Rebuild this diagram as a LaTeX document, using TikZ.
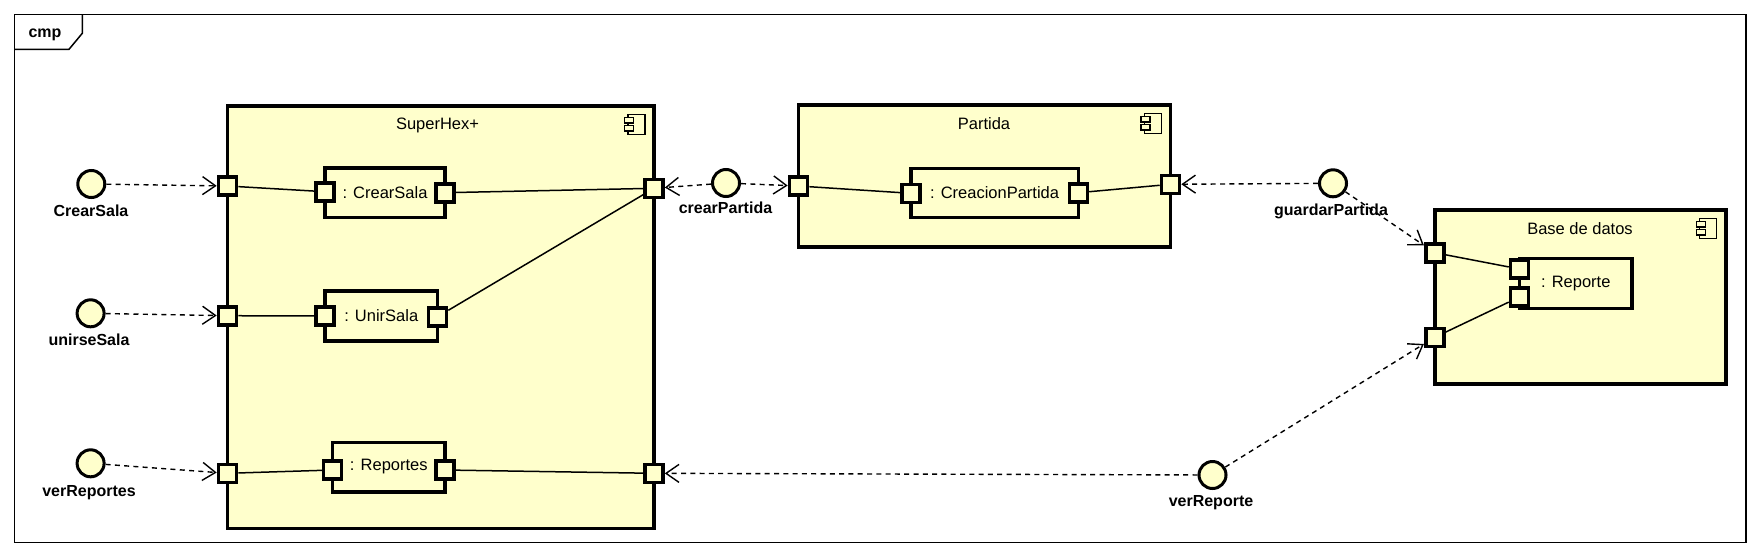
\documentclass[tikz,border=0pt]{standalone}
\usepackage{fontspec}
\setmainfont{Liberation Sans}
\usetikzlibrary{arrows.meta}
\definecolor{compfill}{HTML}{FFFFCC}
\begin{document}
\begin{tikzpicture}[x=1pt,y=-1pt,
  compbox/.style={draw, line width=3.6pt, fill=compfill, inner sep=0pt, outer sep=0pt},
  portbox/.style={draw, line width=3.6pt, fill=compfill, minimum size=18pt, inner sep=0pt},
  iface/.style={draw, circle, line width=3pt, fill=compfill, minimum size=27pt, inner sep=0pt},
  ilabel/.style={font=\fontsize{16}{19}\selectfont\bfseries, anchor=base, inner sep=0pt},
  clabel/.style={font=\fontsize{16.5}{19}\selectfont},
  dep/.style={dash pattern=on 5pt off 4.3pt, line width=1.4pt, -{Straight Barb[length=13pt,width=18pt]}},
  wire/.style={line width=1.5pt},
  cicon/.pic={
    \draw[line width=1.2pt, fill=compfill] (0,0) rectangle (17,20);
    \draw[line width=1.2pt, fill=compfill] (-3.5,3) rectangle (5.5,8.5);
    \draw[line width=1.2pt, fill=compfill] (-3.5,11) rectangle (5.5,16.5);
  }
]
\useasboundingbox (0,0) rectangle (1760,557);
\fill[white] (0,0) rectangle (1760,557);

% frame
\draw[line width=1.5pt] (14.3,14.3) rectangle (1746,542.7);
\draw[line width=1.5pt] (14.3,49.3) -- (69,49.3) -- (82.3,33.3) -- (82.3,14.3);
\node[font=\fontsize{16}{19}\selectfont\bfseries, anchor=base, inner sep=0pt] (cmp) at (45,37.5) {cmp};

% outer components
\node[compbox, anchor=north west, minimum width=426.5pt, minimum height=422.3pt] (sh) at (227.5,106) {};
\node[compbox, anchor=north west, minimum width=372pt, minimum height=141.7pt] (pa) at (798.5,105) {};
\node[compbox, anchor=north west, minimum width=291pt, minimum height=174pt] (bd) at (1434.7,210) {};
\node[clabel] (shlbl) at (437.5,125) {SuperHex+};
\node[clabel] (palbl) at (984,123.5) {Partida};
\node[clabel] (bdlbl) at (1580,229) {Base de datos};
\pic at ([shift={(-26,8.5)}]sh.north east) {cicon};
\pic at ([shift={(-26,8.5)}]pa.north east) {cicon};
\pic at ([shift={(-26,8.5)}]bd.north east) {cicon};

% inner components
\node[compbox, clabel, minimum width=120pt, minimum height=49.6pt] (cs) at (385,192.5) {: CrearSala};
\node[compbox, clabel, minimum width=112.5pt, minimum height=49.7pt] (us) at (381.25,315.85) {: UnirSala};
\node[compbox, clabel, minimum width=112.4pt, minimum height=49.4pt] (rs) at (388.8,467) {: Reportes};
\node[compbox, clabel, minimum width=167.7pt, minimum height=49pt] (cp) at (994.55,192.8) {: CreacionPartida};
\node[compbox, clabel, minimum width=112.5pt, minimum height=50pt] (rp) at (1575.75,283.3) {: Reporte};

% ports
\node[portbox] (p1) at (227.5,186) {};
\node[portbox] (p2) at (227.5,315.7) {};
\node[portbox] (p3) at (227.5,473.3) {};
\node[portbox] (p4) at (654,188.3) {};
\node[portbox] (p5) at (654,473.3) {};
\node[portbox] (p6) at (798.5,186) {};
\node[portbox] (p7) at (1170.5,184.3) {};
\node[portbox] (p8) at (1434.7,252.7) {};
\node[portbox] (p9) at (1434.7,337.3) {};
\node[portbox] (q1) at (325,191.7) {};
\node[portbox] (q2) at (445,192.7) {};
\node[portbox] (q3) at (325,316) {};
\node[portbox] (q4) at (437.5,316.7) {};
\node[portbox] (q5) at (332.6,470) {};
\node[portbox] (q6) at (445,470) {};
\node[portbox] (q7) at (910.7,193.3) {};
\node[portbox] (q8) at (1078.4,192.7) {};
\node[portbox] (q9) at (1519.5,269) {};
\node[portbox] (q10) at (1519.5,297) {};

% wires
\draw[wire] (p1) -- (q1);
\draw[wire] (q2) -- (p4);
\draw[wire] (q4) -- (p4);
\draw[wire] (p2) -- (q3);
\draw[wire] (p3) -- (q5);
\draw[wire] (q6) -- (p5);
\draw[wire] (p6) -- (q7);
\draw[wire] (q8) -- (p7);
\draw[wire] (p8) -- (q9);
\draw[wire] (p9) -- (q10);

% interfaces
\node[iface] (i1) at (91.3,184) {};
\node[iface] (i2) at (90.6,313.3) {};
\node[iface] (i3) at (90.6,463.3) {};
\node[iface] (i4) at (726,183) {};
\node[iface] (i5) at (1333,183.3) {};
\node[iface] (i6) at (1212.5,475) {};
\node[ilabel] (l1) at (91,216.5) {CrearSala};
\node[ilabel] (l2) at (89,345.5) {unirseSala};
\node[ilabel] (l3) at (89,496) {verReportes};
\node[ilabel] (l4) at (725.5,213.5) {crearPartida};
\node[ilabel] (l5) at (1331,215) {guardarPartida};
\node[ilabel] (l6) at (1211,506) {verReporte};

% dependencies
\draw[dep] (i1) -- (p1);
\draw[dep] (i2) -- (p2);
\draw[dep] (i3) -- (p3);
\draw[dep] (i4) -- (p4);
\draw[dep] (i4) -- (p6);
\draw[dep] (i5) -- (p7);
\draw[dep] (i5) -- (p8);
\draw[dep] (i6) -- (p5);
\draw[dep] (i6) -- (p9);
\end{tikzpicture}
\end{document}
